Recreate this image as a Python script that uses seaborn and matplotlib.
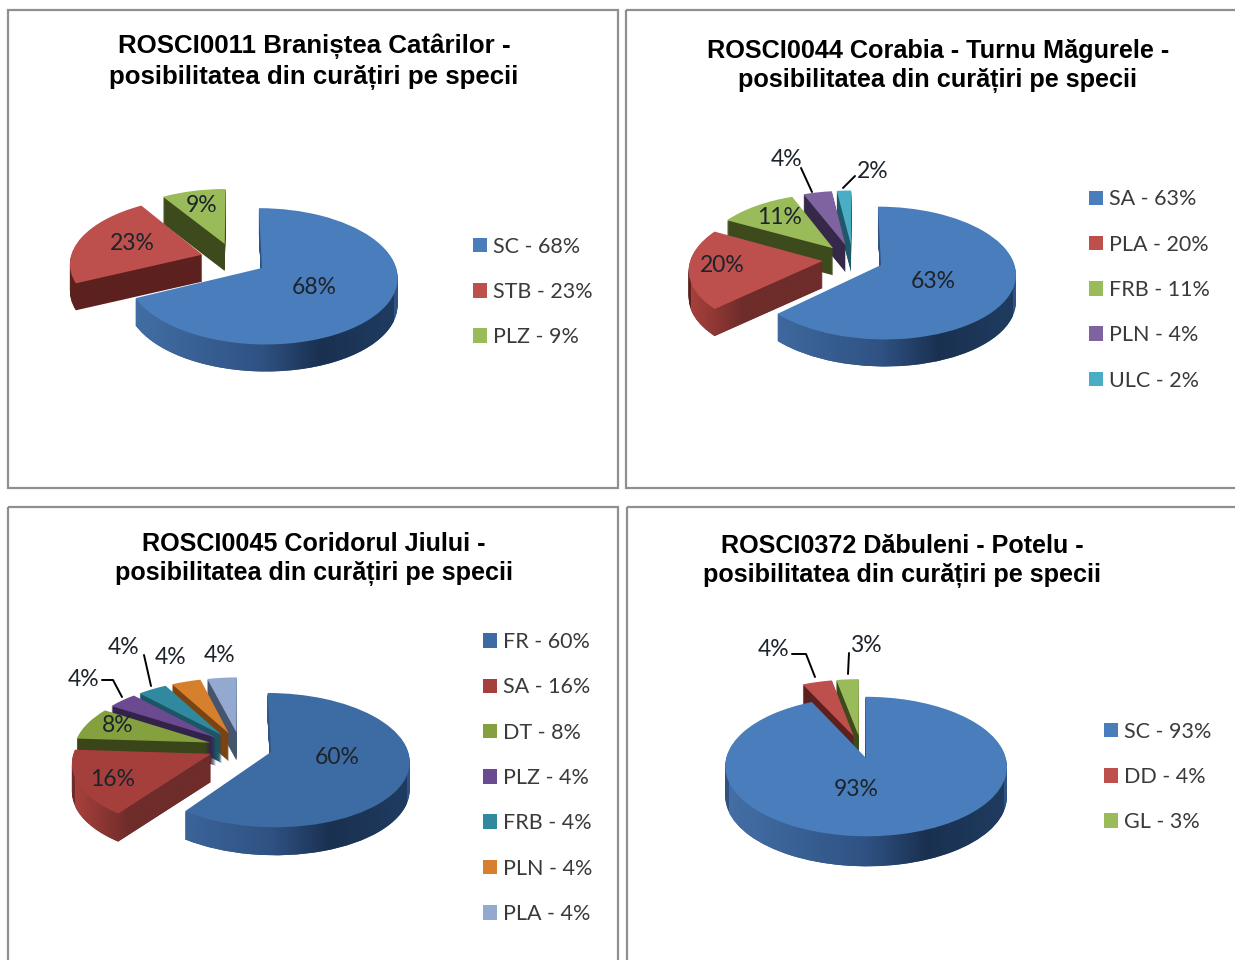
"""Four exploded pseudo-3D pies: posibilitatea din curatiri pe specii."""

import numpy as np
import matplotlib
matplotlib.use("Agg")
import matplotlib.pyplot as plt
from matplotlib.colors import LinearSegmentedColormap
from matplotlib.path import Path
from matplotlib.patches import Rectangle
from matplotlib.transforms import Affine2D, Transform
import seaborn as sns

# --- data ---
titles = [
    "ROSCI0011 Braniștea Catârilor -\nposibilitatea din curățiri pe specii",
    "ROSCI0044 Corabia - Turnu Măgurele -\nposibilitatea din curățiri pe specii",
    "ROSCI0045 Coridorul Jiului -\nposibilitatea din curățiri pe specii",
    "ROSCI0372 Dăbuleni - Potelu -\nposibilitatea din curățiri pe specii",
]
species = [
    ["SC", "STB", "PLZ"],
    ["SA", "PLA", "FRB", "PLN", "ULC"],
    ["FR", "SA", "DT", "PLZ", "FRB", "PLN", "PLA"],
    ["SC", "DD", "GL"],
]
shares = [
    [68, 23, 9],
    [63, 20, 11, 4, 2],
    [60, 16, 8, 4, 4, 4, 4],
    [93, 4, 3],
]

# --- colours ---
top_colors = sns.color_palette(
    ["#4a7dbb", "#bd4f4c", "#9abb59", "#7f63a1", "#4aacc5"])
side_colors = sns.color_palette(
    ["#2f5283", "#5c211e", "#3d4a1c", "#352848", "#1f5866"])
top_colors_dark = sns.color_palette(
    ["#3d6ba3", "#a53f3c", "#85a03f", "#6b4a91", "#30899f", "#d67f2c", "#93a9cf"])
side_colors_dark = sns.color_palette(
    ["#2f5283", "#6e2c2a", "#3a451a", "#33234a", "#1c5563", "#7a4312", "#46556e"])
panel_top = [top_colors, top_colors, top_colors_dark, top_colors]
panel_side = [side_colors, side_colors, side_colors_dark, side_colors]

# --- layout, all in pixels of the 1235x960 image ---
frames = [(8, 10, 610, 478), (626, 10, 620, 478), (8, 507, 610, 470), (627, 507, 620, 470)]
title_xy = [(314, 62), (938, 66), (314, 559), (902, 561)]
title_sizes = [18.6, 18.2, 18.1, 18.1]
apex_xy = [(262, 268), (881, 265), (271, 752), (866, 758)]
radii = [(132, 65), (132, 64), (136, 65), (137, 66)]
depths = [27, 27, 28, 30]
explodes = [0.25, 0.23, 0.235, 0.17]
label_xy = [
    [(314, 288), (132, 243), (202, 205)],
    [(933, 281), (722, 266), (780, 218), (787, 160), (873, 171)],
    [(337, 757), (113, 779), (118, 725), (84, 680), (124, 648), (171, 657), (220, 656)],
    [(856, 789), (774, 649), (866, 646)],
]
leaders = [
    [],
    [[(801, 168), (812, 192)], [(855, 176), (843, 188)]],
    [[(102, 680), (113, 680), (122, 697)], [(144, 655), (151, 686)]],
    [[(792, 654), (806, 654), (815, 677)], [(849, 653), (848, 674)]],
]
legend_xy = [(473, 292), (1089, 290), (483, 778), (1104, 777)]

W, H = 1235, 960
LIMIT_X, LIMIT_Y = 1.9, 3.2
TILT = 0.12


class Tilt(Transform):
    """Perspective: the back of the pie looks smaller than the front."""
    input_dims = output_dims = 2

    def transform_non_affine(self, values):
        values = np.asarray(values, dtype=float)
        w = 1 + TILT * values[:, 1]
        return values / w[:, None]


sns.set_theme(style="white")
plt.rcParams["font.family"] = ["Lato", "DejaVu Sans"]

fig = plt.figure(figsize=(W / 100, H / 100), dpi=100, facecolor="white")

# overlay in pixel coordinates for frames, text and leader lines
overlay = fig.add_axes([0, 0, 1, 1], zorder=5)
overlay.set_xlim(0, W)
overlay.set_ylim(H, 0)
overlay.axis("off")

blue_cmap = LinearSegmentedColormap.from_list(
    "rim", [(0, "#436fa6"), (0.5, "#2f5283"), (0.72, "#1a3050"), (1, "#1f3c60")])
red_cmap = LinearSegmentedColormap.from_list(
    "rim_red", [(0, "#a8403c"), (0.2, "#6e2c2a"), (1, "#6e2c2a")])


def draw_pie(i):
    """Stack pie layers to fake the 3D depth of one panel."""
    values = shares[i]
    rx, ry = radii[i]
    ax_x, ax_y = apex_xy[i]
    expl = [explodes[i]] * len(values)
    tilt = Tilt()

    # the first slice is placed by hand, the pie centre follows from it
    mid = np.deg2rad(90 - 3.6 * values[0] / 2)
    shift = tilt.transform_non_affine(
        np.array([[expl[0] * np.cos(mid), expl[0] * np.sin(mid)]]))[0]
    base_x = ax_x - shift[0] * rx
    base_y = ax_y + shift[1] * ry

    ax = fig.add_axes([
        (base_x - LIMIT_X * rx) / W,
        1 - (base_y + LIMIT_Y * ry) / H,
        2 * LIMIT_X * rx / W,
        2 * LIMIT_Y * ry / H,
    ], zorder=2)

    n = len(values)
    outlines = [[] for _ in range(n)]
    for layer in range(depths[i], -1, -1):
        colors = panel_top[i] if layer == 0 else panel_side[i]
        wedges, _ = ax.pie(
            values, explode=expl, colors=colors[:n], startangle=90,
            counterclock=False, radius=1,
            wedgeprops={"linewidth": 0}, normalize=True, frame=False,
        )
        to_data = tilt + Affine2D().translate(0, -layer / ry)
        for k, w in enumerate(wedges):
            w.set_transform(to_data + ax.transData)
            w.set_zorder((n - k) * 10 + (2 if layer == 0 else 0))
            if layer > 0:
                outlines[k].append(to_data.transform_path(w.get_path()))

    # shaded rims for the big slices
    rims = {0: blue_cmap}
    if i in (1, 2):
        rims[1] = red_cmap
    gradient = np.linspace(0, 1, 256).reshape(1, -1)
    for k, cmap in rims.items():
        theta = np.deg2rad(90 - 3.6 * (sum(values[:k]) + values[k] / 2))
        off = expl[k] * np.cos(theta)
        im = ax.imshow(gradient, cmap=cmap, aspect="auto", zorder=(n - k) * 10 + 1,
                       extent=(off - 1, off + 1, -LIMIT_Y, LIMIT_Y))
        im.set_clip_path(Path.make_compound_path(*outlines[k]), transform=ax.transData)

    ax.set_aspect("auto")
    ax.set_xlim(-LIMIT_X, LIMIT_X)
    ax.set_ylim(-LIMIT_Y, LIMIT_Y)
    ax.axis("off")

    # legend from the top wedges
    names = [f"{s} - {v}%" for s, v in zip(species[i], values)]
    ax.legend(
        wedges, names, loc="center left", bbox_to_anchor=legend_xy[i],
        bbox_transform=overlay.transData, frameon=False, fontsize=15.5,
        handlelength=0.66, handleheight=0.66, handletextpad=0.28,
        labelspacing=1.175, borderpad=0, borderaxespad=0, labelcolor="#3a3a3a",
    )


for i in range(4):
    x, y, w, h = frames[i]
    overlay.add_patch(Rectangle((x, y), w, h, fill=False, edgecolor="#8f8f8f", linewidth=1.6))
    overlay.text(title_xy[i][0], title_xy[i][1], titles[i], ha="center", va="center",
                 family=["Liberation Sans", "DejaVu Sans"], fontweight="bold",
                 fontsize=title_sizes[i], linespacing=1.3, color="black")
    draw_pie(i)
    for v, (tx, ty) in zip(shares[i], label_xy[i]):
        overlay.text(tx, ty, f"{v}%", ha="center", va="center", fontsize=16.5, color="#1d232b")
    for pts in leaders[i]:
        overlay.plot([p[0] for p in pts], [p[1] for p in pts], color="black", linewidth=1.4)

fig.savefig("out.png", dpi=100, facecolor="white")
plt.close(fig)
